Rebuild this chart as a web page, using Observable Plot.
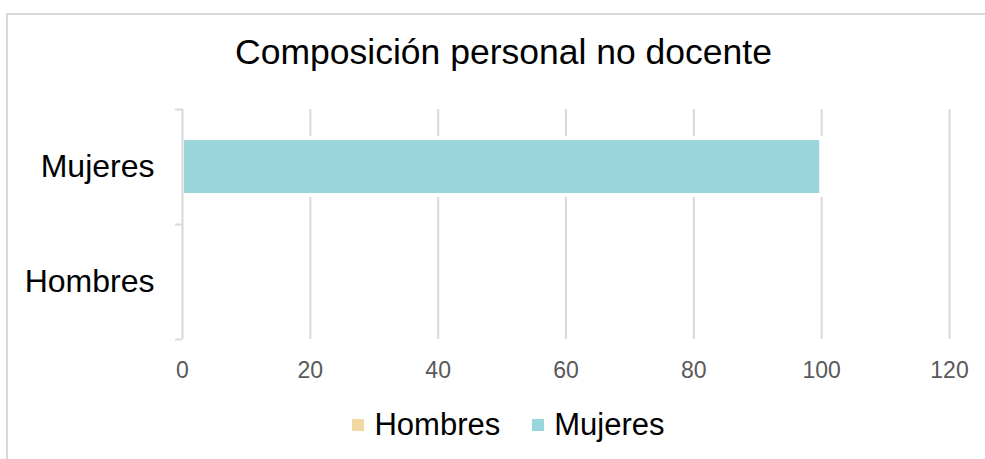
<!DOCTYPE html>
<html><head><meta charset="utf-8">
<script src="https://cdn.jsdelivr.net/npm/d3@7"></script>
<script src="https://cdn.jsdelivr.net/npm/@observablehq/plot@0.6"></script>
<style>
html,body{margin:0;padding:0;background:#fff;}
#wrap{position:relative;width:985px;height:459px;overflow:hidden;font-family:"Liberation Sans",Arial,sans-serif;}
#frame{position:absolute;left:6px;top:13px;width:1100px;height:600px;border:2px solid #d9d9d9;box-sizing:border-box;}
#title{position:absolute;left:0;width:1007px;top:35px;text-align:center;font-size:35.5px;color:#000;line-height:1;}
#chart{position:absolute;left:0;top:100px;}
#legend{position:absolute;top:407px;left:0;width:1017px;display:flex;justify-content:center;align-items:center;font-size:31px;color:#000;}
.item{display:flex;align-items:center;margin:0 16px;}
.sw{width:12px;height:12px;margin-right:10px;}
</style></head>
<body><div id="wrap"><div id="frame"></div><div id="title"></div><div id="chart"></div><div id="legend"></div></div>
<script>
const title = "Composición personal no docente";
const categories = ["Hombres", "Mujeres"];
const values = [0, 100];
const colors = ["#F1D9A5", "#9AD5DC"];
const xTicks = [0, 20, 40, 60, 80, 100, 120];

const data = categories.map((c, i) => ({category: c, value: values[i], color: colors[i]}));
const yDomain = categories.slice().reverse();

document.getElementById("title").textContent = title;

const W = 985, H = 290, mT = 9, mB = 51;
const step = (H - mT - mB) / yDomain.length;

const plot = Plot.plot({
  width: W, height: H,
  marginLeft: 182, marginRight: 36, marginTop: mT, marginBottom: mB,
  style: {fontFamily: "'Liberation Sans', Arial, sans-serif", background: "transparent"},
  x: {domain: [0, 120], ticks: xTicks, tickSize: 0, tickPadding: 22, tickFormat: d => String(d), label: null},
  y: {domain: yDomain, padding: 0, tickSize: 0, tickPadding: 28, label: null},
  marks: [
    Plot.ruleX(xTicks.filter(d => d !== 0), {stroke: "#d9d9d9", strokeWidth: 2}),
    Plot.barX(data, {x: "value", y: "category", fill: "color", stroke: "#fff", strokeWidth: 4, insetTop: 29, insetBottom: 29}),
    Plot.ruleX([0], {stroke: "#d9d9d9", strokeWidth: 2}),
    Plot.ruleY(yDomain, {y: d => d, dy: -step / 2, x1: -1.1, x2: 0, stroke: "#d9d9d9", strokeWidth: 2}),
    Plot.ruleY(yDomain.slice(-1), {y: d => d, dy: step / 2, x1: -1.1, x2: 0, stroke: "#d9d9d9", strokeWidth: 2}),
    Plot.axisX({ticks: xTicks, tickSize: 0, tickPadding: 22, fontSize: 23, fill: "#595959", tickFormat: d => String(d), label: null}),
    Plot.axisY({tickSize: 0, tickPadding: 28, fontSize: 32, fill: "#000", label: null})
  ]
});
document.getElementById("chart").appendChild(plot);

const legend = document.getElementById("legend");
categories.forEach((c, i) => {
  const it = document.createElement("div"); it.className = "item";
  const sw = document.createElement("div"); sw.className = "sw"; sw.style.background = colors[i];
  const tx = document.createElement("span"); tx.textContent = c;
  it.appendChild(sw); it.appendChild(tx); legend.appendChild(it);
});
</script></body></html>
